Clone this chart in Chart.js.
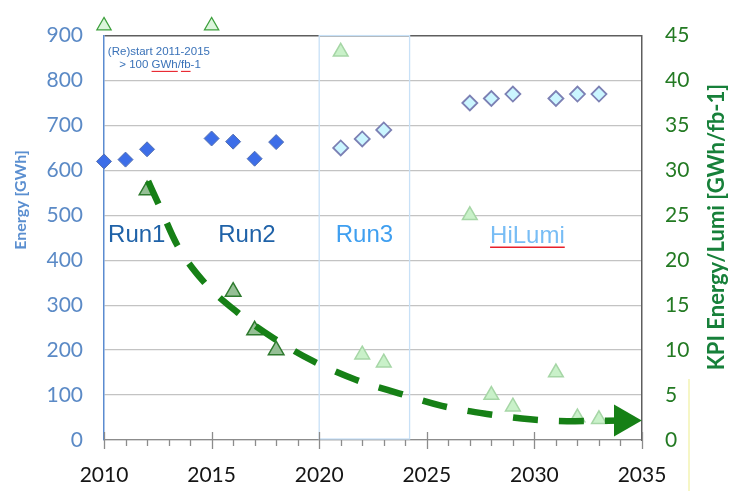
<!DOCTYPE html>
<html>
<head>
<meta charset="utf-8">
<script src="https://cdn.jsdelivr.net/npm/chart.js@4.4.1/dist/chart.umd.min.js"></script>
<style>
  html, body { margin: 0; padding: 0; background: #fff; }
  #wrap { width: 733px; height: 491px; }
</style>
</head>
<body>
<div id="wrap"><canvas id="chart" width="733" height="491"></canvas></div>
<script>
// 能耗 [GWh]：Run1/Run2 实测
const energyYearsPast = [2010, 2011, 2012, 2015, 2016, 2017, 2018];
const energyPast = [620, 624, 647, 671, 664, 626, 663];
// 能耗 [GWh]：Run3 / HiLumi 预估
const energyYearsFuture = [2021, 2022, 2023, 2027, 2028, 2029, 2031, 2032, 2033];
const energyFuture = [650, 670, 690, 750, 760, 770, 760, 770, 770];

// KPI 能耗/亮度 [GWh/fb-1]
const kpiYearsRestart = [2010, 2015];
const kpiRestart = [46.1, 46.1];
const kpiYearsPast = [2012, 2016, 2017, 2018];
const kpiPast = [27.8, 16.5, 12.2, 10];
const kpiYearsFuture = [2021, 2022, 2023, 2027, 2028, 2029, 2031, 2032, 2033];
const kpiFuture = [43.2, 9.5, 8.6, 25, 5, 3.7, 7.5, 2.5, 2.3];

// KPI 趋势线（虚线 + 箭头）
const trendYears = [2012.05, 2012.6, 2013.4, 2014.6, 2016.2, 2017.9, 2019.7, 2021.7, 2023.7, 2025.7, 2027.8, 2029.8, 2031.9, 2034.13];
const trendKpi = [28.8, 25.9, 21.7, 17.7, 14.2, 11.3, 8.8, 6.7, 5.2, 3.8, 2.9, 2.3, 2.1, 2.16];

// 坐标轴刻度
const yearTicks = [2010, 2015, 2020, 2025, 2030, 2035];
const energyTicks = [0, 100, 200, 300, 400, 500, 600, 700, 800, 900];
const kpiTicks = [0, 5, 10, 15, 20, 25, 30, 35, 40, 45];

// Run3 时段
const run3Start = 2020;
const run3End = 2024.2;

const TICK_FONT = 'Lato';
const NOTE_FONT = 'Liberation Sans';

const toPoints = (xs, ys) => xs.map((x, i) => ({ x, y: ys[i] }));

// 图中文字标注（位置用数据坐标）
const notes = [
  { text: '(Re)start 2011-2015', year: 2010.18, energy: 857, size: 11.5, color: '#3a72b8' },
  { text: '> 100 GWh/fb-1', year: 2010.71, energy: 827, size: 11.5, color: '#3a72b8', underline: ['GWh', 'fb'] },
  { text: 'Run1', year: 2010.19, energy: 440, size: 24, color: '#1f62a8' },
  { text: 'Run2', year: 2015.31, energy: 440, size: 24, color: '#1f62a8' },
  { text: 'Run3', year: 2020.77, energy: 440, size: 24, color: '#3f9ff0' },
  { text: 'HiLumi', year: 2027.94, energy: 438, size: 24, color: '#78bdf5', underline: ['HiLumi'] }
];

const decorPlugin = {
  id: 'decor',
  beforeDatasetsDraw(chart) {
    const { ctx, chartArea } = chart;
    const x = chart.scales.x;
    const y = chart.scales.y;

    // Run3 区间框
    ctx.save();
    ctx.strokeStyle = '#c8e1f7';
    ctx.lineWidth = 1.3;
    const x0 = x.getPixelForValue(run3Start);
    const x1 = x.getPixelForValue(run3End);
    ctx.strokeRect(x0, chartArea.top, x1 - x0, chartArea.bottom - chartArea.top - 1);
    ctx.restore();

    // 文字标注
    notes.forEach(n => {
      const px = x.getPixelForValue(n.year);
      const py = y.getPixelForValue(n.energy);
      ctx.save();
      ctx.font = `${n.size}px "${NOTE_FONT}"`;
      ctx.fillStyle = n.color;
      ctx.textAlign = 'left';
      ctx.textBaseline = 'alphabetic';
      ctx.fillText(n.text, px, py);
      if (n.underline) {
        ctx.strokeStyle = '#e8202a';
        ctx.lineWidth = n.size > 20 ? 1.6 : 1.1;
        const off = n.size > 20 ? 4 : 3;
        n.underline.forEach(word => {
          const idx = n.text.indexOf(word);
          const sx = px + ctx.measureText(n.text.slice(0, idx)).width;
          const w = ctx.measureText(word).width;
          ctx.beginPath();
          ctx.moveTo(sx, py + off);
          ctx.lineTo(sx + w, py + off);
          ctx.stroke();
        });
      }
      ctx.restore();
    });
  },
  afterDraw(chart) {
    const { ctx, chartArea } = chart;
    const x = chart.scales.x;
    const y2 = chart.scales.y2;
    const axisY = chartArea.bottom;

    // 年份刻度：每 5 年长刻度，每年短刻度
    ctx.save();
    ctx.strokeStyle = '#8c8c8c';
    ctx.lineWidth = 1.3;
    for (let yr = 2010; yr <= 2035; yr++) {
      const px = Math.round(x.getPixelForValue(yr)) + 0.5;
      const major = yr % 5 === 0;
      ctx.beginPath();
      ctx.moveTo(px, major ? axisY - 8 : axisY);
      ctx.lineTo(px, major ? axisY + 9 : axisY + 6);
      ctx.stroke();
    }
    ctx.restore();

    // 左轴标题
    ctx.save();
    ctx.translate(21, 200);
    ctx.rotate(-Math.PI / 2);
    ctx.font = `bold 16px "${TICK_FONT}"`;
    ctx.fillStyle = '#5b8fd0';
    ctx.textAlign = 'center';
    ctx.textBaseline = 'middle';
    ctx.fillText('Energy [GWh]', 0, 0);
    ctx.restore();

    // 右轴标题
    ctx.save();
    ctx.translate(717, 227);
    ctx.rotate(-Math.PI / 2);
    ctx.font = `bold 22px "${TICK_FONT}"`;
    ctx.fillStyle = '#17803a';
    ctx.textAlign = 'center';
    ctx.textBaseline = 'middle';
    ctx.fillText('KPI Energy/Lumi [GWh/fb-1]', 0, 0);
    ctx.restore();

    // 右侧淡黄色竖线
    ctx.save();
    ctx.strokeStyle = '#f6f6c6';
    ctx.lineWidth = 2;
    ctx.beginPath();
    ctx.moveTo(y2.left + 47, y2.getPixelForValue(6.8));
    ctx.lineTo(y2.left + 47, chart.height);
    ctx.stroke();
    ctx.restore();
  }
};

const ctx = document.getElementById('chart').getContext('2d');

new Chart(ctx, {
  type: 'line',
  data: {
    datasets: [
      {
        label: 'KPI trend',
        data: toPoints(trendYears, trendKpi),
        yAxisID: 'y2',
        order: 0,
        showLine: true,
        borderColor: '#168016',
        borderWidth: 6.5,
        borderDash: [25, 21],
        borderCapStyle: 'butt',
        cubicInterpolationMode: 'monotone',
        pointStyle: 'triangle',
        pointRotation: 90,
        pointRadius: trendYears.map((_, i) => i === trendYears.length - 1 ? 18.5 : 0),
        pointHoverRadius: 0,
        pointBackgroundColor: '#168016',
        pointBorderColor: '#168016',
        pointBorderWidth: 0,
        clip: false
      },
      {
        label: 'Energy Run1/Run2',
        data: toPoints(energyYearsPast, energyPast),
        yAxisID: 'y',
        order: 2,
        showLine: false,
        pointStyle: 'rectRot',
        pointRadius: 7.5,
        pointBackgroundColor: '#3d6ee8',
        pointBorderColor: '#5470b0',
        pointBorderWidth: 1,
        clip: false
      },
      {
        label: 'Energy Run3/HiLumi',
        data: toPoints(energyYearsFuture, energyFuture),
        yAxisID: 'y',
        order: 2,
        showLine: false,
        pointStyle: 'rectRot',
        pointRadius: 7.5,
        pointBackgroundColor: '#cbf6ff',
        pointBorderColor: '#7c80b4',
        pointBorderWidth: 1.8,
        clip: false
      },
      {
        // 超出右轴上限的两点，放大 hoverRadius 以免被区域检测跳过
        label: 'KPI restart',
        data: toPoints(kpiYearsRestart, kpiRestart),
        yAxisID: 'y2',
        order: 1,
        showLine: false,
        pointStyle: 'triangle',
        pointRadius: 8.3,
        pointHoverRadius: 20,
        pointBackgroundColor: '#dcf5dc',
        pointBorderColor: '#3da03d',
        pointBorderWidth: 1.2,
        clip: false
      },
      {
        label: 'KPI Run1/Run2',
        data: toPoints(kpiYearsPast, kpiPast),
        yAxisID: 'y2',
        order: 1,
        showLine: false,
        pointStyle: 'triangle',
        pointRadius: 9,
        pointBackgroundColor: '#95bf95',
        pointBorderColor: '#2e7a2e',
        pointBorderWidth: 1.5,
        clip: false
      },
      {
        label: 'KPI Run3/HiLumi',
        data: toPoints(kpiYearsFuture, kpiFuture),
        yAxisID: 'y2',
        order: 1,
        showLine: false,
        pointStyle: 'triangle',
        pointRadius: 8.5,
        pointBackgroundColor: '#c9f1c9',
        pointBorderColor: '#a6d6a6',
        pointBorderWidth: 1.5,
        clip: false
      }
    ]
  },
  options: {
    responsive: false,
    animation: false,
    devicePixelRatio: 1,
    layout: { padding: { top: 23, left: 0, right: 0, bottom: 0 } },
    plugins: {
      legend: { display: false },
      tooltip: { enabled: false }
    },
    scales: {
      x: {
        type: 'linear',
        position: 'bottom',
        min: 2010,
        max: 2035,
        afterBuildTicks: s => { s.ticks = yearTicks.map(v => ({ value: v })); },
        afterFit: s => { s.height = 51; },
        grid: { display: false, drawTicks: false },
        border: { display: true, color: '#8c8c8c', width: 1.3 },
        ticks: {
          padding: 23,
          color: '#151515',
          font: { family: TICK_FONT, size: 21 },
          callback: v => String(v)
        }
      },
      y: {
        type: 'linear',
        position: 'left',
        min: 0,
        max: 900,
        afterBuildTicks: s => { s.ticks = energyTicks.map(v => ({ value: v })); },
        afterFit: s => { s.width = 104; },
        grid: {
          drawTicks: false,
          color: c => c.tick && c.tick.value === 900 ? '#5e5e5e' : '#c3c3c3',
          lineWidth: c => c.tick && c.tick.value === 900 ? 1.5 : 1.3
        },
        border: { display: true, color: '#5b8bd0', width: 1.5 },
        ticks: {
          padding: 21,
          color: '#5b8ac6',
          font: { family: TICK_FONT, size: 21 },
          callback: v => String(v)
        }
      },
      y2: {
        type: 'linear',
        position: 'right',
        min: 0,
        max: 45,
        afterBuildTicks: s => { s.ticks = kpiTicks.map(v => ({ value: v })); },
        afterFit: s => { s.width = 91; },
        grid: { display: false, drawTicks: false },
        border: { display: true, color: '#5e5e5e', width: 1.5 },
        ticks: {
          padding: 23,
          color: '#237a23',
          font: { family: TICK_FONT, size: 21 },
          callback: v => String(v)
        }
      }
    }
  },
  plugins: [decorPlugin]
});
</script>
</body>
</html>
